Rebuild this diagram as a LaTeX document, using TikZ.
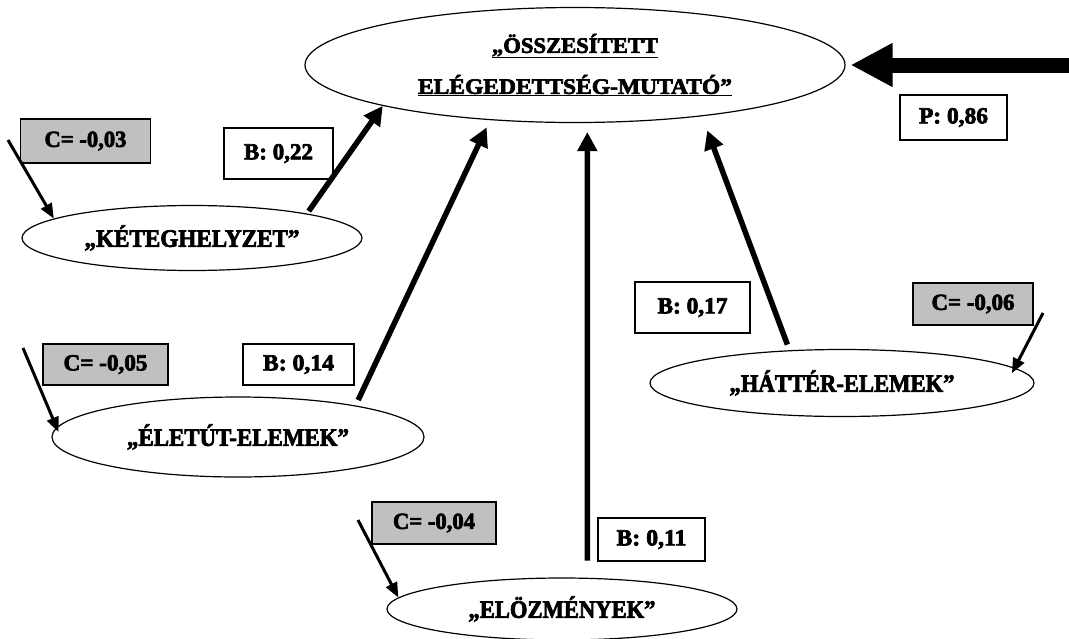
\documentclass[tikz,border=0pt]{standalone}
\usepackage{graphicx}
\usepackage{fontspec}
\setmainfont{Liberation Serif}
\newfontfamily\heavyfont{Liberation Serif Bold}[FakeBold=3]
\newcommand\fw[2]{\resizebox{#1}{\height}{#2}}
\usetikzlibrary{shapes.geometric,arrows.meta}
\definecolor{boxgray}{RGB}{192,192,192}
\begin{document}
\begin{tikzpicture}[x=1pt,y=-1pt,
  ell/.style={draw, ellipse, line width=1.2pt, inner sep=0pt, font=\heavyfont\fontsize{25}{29}\selectfont},
  bbox/.style={draw, line width=1.4pt, rectangle, inner sep=0pt, font=\heavyfont\fontsize{23}{26}\selectfont},
  cbox/.style={bbox, fill=boxgray},
  carrow/.style={line width=3pt, -{Triangle[length=15pt,width=12pt]}},
  barrow/.style={line width=5.5pt, -{Triangle[length=19pt,width=19pt]}},
  parrow/.style={line width=15pt, -{Triangle[length=42pt,width=41pt]}}]
\useasboundingbox (0,0) rectangle (1069,638);
\fill[white] (0,0) rectangle (1069,638);

% ellipses
\node[ell, minimum width=540pt, minimum height=115pt, align=center,
      font=\heavyfont\fontsize{22}{41}\selectfont] (top) at (575,65)
  {\underline{\fw{166pt}{„ÖSSZESÍTETT}}\\\underline{\fw{314pt}{ELÉGEDETTSÉG-MUTATÓ”}}};
\node[ell, minimum width=340pt, minimum height=65pt] (ket) at (192,238) {\fw{215pt}{„KÉTEGHELYZET”}};
\node[ell, minimum width=372pt, minimum height=80pt] (elet) at (238,437) {\fw{222pt}{„ÉLETÚT-ELEMEK”}\hspace{18pt}};
\node[ell, minimum width=350pt, minimum height=62pt] (elo) at (562,609) {\fw{187pt}{„ELÖZMÉNYEK”}\hspace{38pt}};
\node[ell, minimum width=384pt, minimum height=67pt] (hat) at (842,383) {\fw{225pt}{„HÁTTÉR-ELEMEK”}\hspace{20pt}};

% boxes
\node[cbox, minimum width=130pt, minimum height=44pt] (c03) at (85.5,141) {\fw{82pt}{C= -0,03}};
\node[bbox, minimum width=109pt, minimum height=51pt] (b22) at (278.5,153.5) {\fw{69pt}{B: 0,22}};
\node[cbox, minimum width=125pt, minimum height=41pt] (c05) at (105.5,364.5) {\fw{84pt}{C= -0,05}};
\node[bbox, minimum width=111pt, minimum height=41pt] (b14) at (298.5,364.5) {\fw{71pt}{B: 0,14}};
\node[cbox, minimum width=124pt, minimum height=42pt] (c04) at (434,523) {\fw{82pt}{C= -0,04}};
\node[bbox, minimum width=107pt, minimum height=43pt] (b11) at (651.5,539.5) {\fw{70pt}{B: 0,11}};
\node[bbox, minimum width=115pt, minimum height=51pt] (b17) at (692.5,307.5) {\fw{70pt}{B: 0,17}};
\node[cbox, minimum width=120pt, minimum height=42pt] (c06) at (973,304) {\fw{83pt}{C= -0,06}};
\node[bbox, minimum width=107pt, minimum height=45pt] (p86) at (953.5,117.5) {\fw{69pt}{P: 0,86}};

% free ends
\coordinate (s03) at (8,140);
\coordinate (s05) at (23,348);
\coordinate (s04) at (358,520);
\coordinate (s06) at (1043,313);
\coordinate (sp) at (1069,65);

% C arrows
\draw[carrow] (s03) -- (ket.172.4);
\draw[carrow, shorten >=-5pt] (s05) -- (elet.177);
\draw[carrow] (s04) -- (elo.176.1);
\draw[carrow, shorten >=-6pt] (s06) -- (hat.5.9);

% B arrows
\draw[barrow, shorten <=3pt] (ket.12.3) -- (top.192.5);
\draw[barrow, shorten <=6pt, shorten >=8pt] (elet.15.4) -- (top.213);
\draw[barrow, shorten <=17pt, shorten >=9pt] (elo.51) -- (top.282.5);
\draw[barrow, shorten <=6pt, shorten >=15pt] (hat.148.5) -- (top.338);

% P arrow
\draw[parrow, shorten >=5pt] (sp) -- (top.east);
\end{tikzpicture}
\end{document}
